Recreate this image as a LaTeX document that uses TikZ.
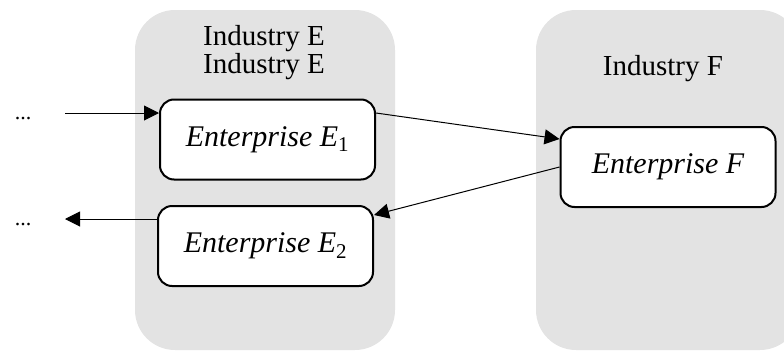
\documentclass[tikz,border=0pt]{standalone}
\usepackage{fontspec}
\setmainfont{Liberation Serif}
\usetikzlibrary{arrows.meta}
\definecolor{panelgray}{RGB}{227,227,227}
\begin{document}
\begin{tikzpicture}[x=1pt, y=-1pt, >={Triangle[length=15pt,width=15pt]},
  firm/.style={draw, line width=2pt, fill=white, rounded corners=14pt,
    minimum width=215pt, minimum height=80pt,
    font=\fontsize{30}{30}\selectfont\itshape},
  sector/.style={align=center, font=\fontsize{29}{26}\selectfont},
  conn/.style={->, line width=1pt}]
\useasboundingbox (0,0) rectangle (784,351);

% the two industries
\fill [panelgray, rounded corners=40pt](135,10) rectangle (395,350);
\fill [panelgray, rounded corners=40pt](536,10) rectangle (800,350);

\node[sector, anchor=base] (indE) at (264,73) {Industry E\\Industry E};
\node[sector, anchor=base] (indF) at (663,75) {Industry F};

% enterprises
\node[firm] (E1) at (267.5,139.5) {Enterprise E\textsubscript{\upshape 1}};
\node[firm] (E2) at (265.5,246) {Enterprise E\textsubscript{\upshape 2}};
\node[firm] (F) at (668,167) {Enterprise F};

% chain in and out
\node[font=\fontsize{22}{22}\selectfont] (dotsIn) at (23,119) {...};
\node[font=\fontsize{22}{22}\selectfont] (dotsOut) at (23,225) {...};
\coordinate (inL) at (65,113);
\coordinate (outL) at (65,219);

\draw[conn] (inL) -- (inL -| E1.west);
\draw[conn] (inL -| E1.east) -- ([yshift=-13pt]F.north west);
\draw[conn] (F.west) -- ([yshift=-10pt]E2.north east);
\draw[conn] (E2.west |- outL) -- (outL);
\end{tikzpicture}
\end{document}
